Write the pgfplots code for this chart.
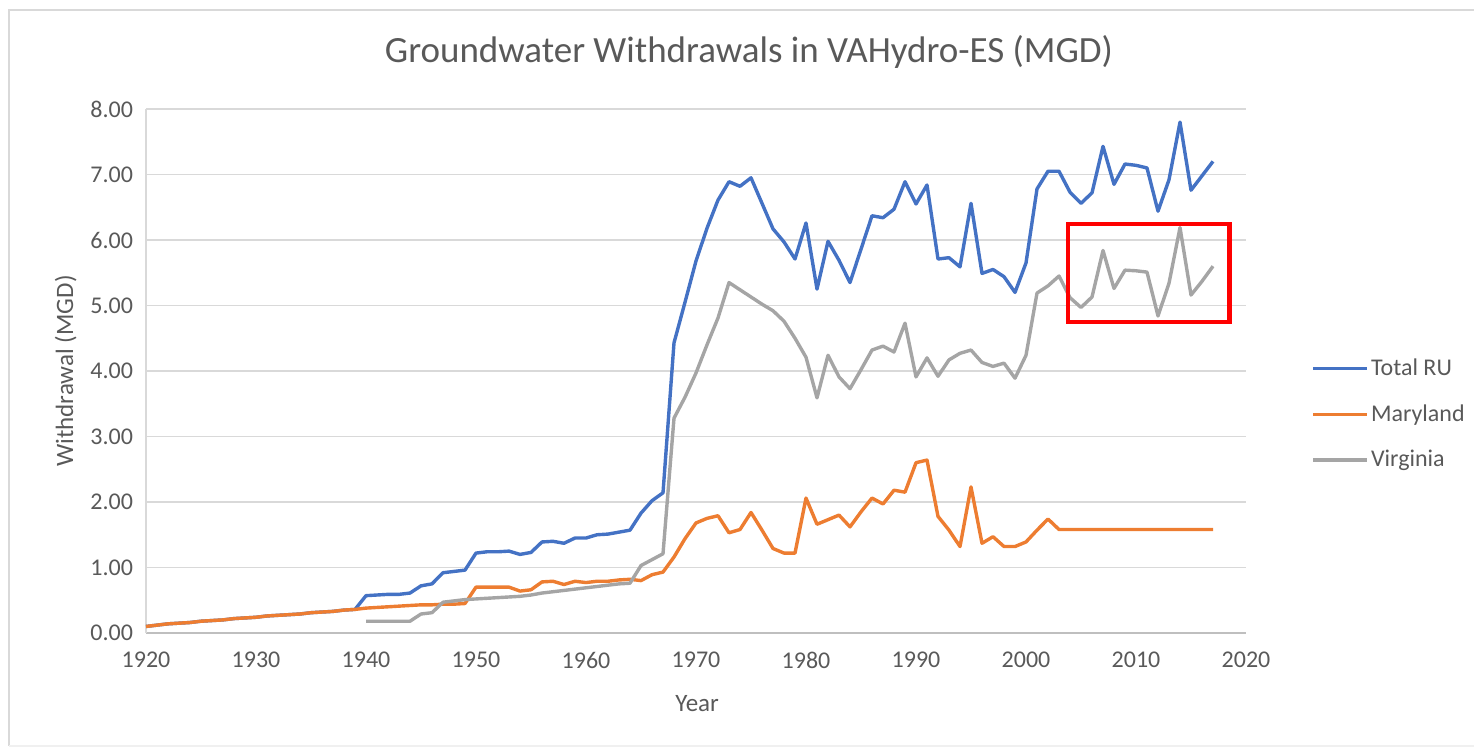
\documentclass[border=0pt]{standalone}
\usepackage{fontspec}
\setmainfont{Carlito}
\usepackage{pgfplots}
\usepackage{pgfplotstable}
\pgfplotsset{compat=1.18}
\definecolor{txtgray}{HTML}{595959}
\definecolor{gridgray}{HTML}{D9D9D9}
\definecolor{axgray}{HTML}{BFBFBF}
\definecolor{xlblue}{HTML}{4472C4}
\definecolor{xlorange}{HTML}{ED7D31}
\definecolor{xlgray}{HTML}{A5A5A5}

\pgfplotstableread{
year val
1920 0.10
1921 0.12
1922 0.14
1923 0.15
1924 0.16
1925 0.18
1926 0.19
1927 0.20
1928 0.22
1929 0.23
1930 0.24
1931 0.26
1932 0.27
1933 0.28
1934 0.29
1935 0.31
1936 0.32
1937 0.33
1938 0.35
1939 0.36
1940 0.57
1941 0.58
1942 0.59
1943 0.59
1944 0.61
1945 0.72
1946 0.75
1947 0.92
1948 0.94
1949 0.96
1950 1.22
1951 1.24
1952 1.24
1953 1.25
1954 1.20
1955 1.23
1956 1.39
1957 1.40
1958 1.37
1959 1.45
1960 1.45
1961 1.50
1962 1.51
1963 1.54
1964 1.57
1965 1.83
1966 2.02
1967 2.14
1968 4.43
1969 5.05
1970 5.68
1971 6.18
1972 6.61
1973 6.89
1974 6.82
1975 6.95
1976 6.56
1977 6.17
1978 5.97
1979 5.71
1980 6.26
1981 5.25
1982 5.98
1983 5.69
1984 5.35
1985 5.86
1986 6.37
1987 6.34
1988 6.47
1989 6.89
1990 6.55
1991 6.84
1992 5.71
1993 5.73
1994 5.59
1995 6.56
1996 5.49
1997 5.55
1998 5.44
1999 5.20
2000 5.65
2001 6.78
2002 7.05
2003 7.05
2004 6.73
2005 6.56
2006 6.72
2007 7.43
2008 6.85
2009 7.16
2010 7.14
2011 7.10
2012 6.44
2013 6.92
2014 7.80
2015 6.76
2016 6.98
2017 7.20
}\totaltab

\pgfplotstableread{
year val
1920 0.10
1921 0.12
1922 0.14
1923 0.15
1924 0.16
1925 0.18
1926 0.19
1927 0.20
1928 0.22
1929 0.23
1930 0.24
1931 0.26
1932 0.27
1933 0.28
1934 0.29
1935 0.31
1936 0.32
1937 0.33
1938 0.35
1939 0.36
1940 0.38
1941 0.39
1942 0.40
1943 0.41
1944 0.42
1945 0.43
1946 0.43
1947 0.44
1948 0.44
1949 0.45
1950 0.70
1951 0.70
1952 0.70
1953 0.70
1954 0.64
1955 0.66
1956 0.78
1957 0.79
1958 0.74
1959 0.79
1960 0.77
1961 0.79
1962 0.79
1963 0.81
1964 0.82
1965 0.80
1966 0.89
1967 0.93
1968 1.16
1969 1.44
1970 1.68
1971 1.75
1972 1.79
1973 1.53
1974 1.58
1975 1.84
1976 1.57
1977 1.29
1978 1.22
1979 1.22
1980 2.06
1981 1.66
1982 1.73
1983 1.80
1984 1.62
1985 1.85
1986 2.06
1987 1.97
1988 2.18
1989 2.15
1990 2.60
1991 2.64
1992 1.78
1993 1.57
1994 1.32
1995 2.23
1996 1.37
1997 1.47
1998 1.32
1999 1.32
2000 1.39
2001 1.57
2002 1.74
2003 1.58
2004 1.58
2005 1.58
2006 1.58
2007 1.58
2008 1.58
2009 1.58
2010 1.58
2011 1.58
2012 1.58
2013 1.58
2014 1.58
2015 1.58
2016 1.58
2017 1.58
}\mdtab

\pgfplotstableread{
year val
1940 0.18
1941 0.18
1942 0.18
1943 0.18
1944 0.18
1945 0.29
1946 0.31
1947 0.47
1948 0.49
1949 0.51
1950 0.52
1951 0.53
1952 0.54
1953 0.55
1954 0.56
1955 0.58
1956 0.61
1957 0.63
1958 0.65
1959 0.67
1960 0.69
1961 0.71
1962 0.73
1963 0.75
1964 0.76
1965 1.03
1966 1.12
1967 1.21
1968 3.28
1969 3.60
1970 3.97
1971 4.40
1972 4.81
1973 5.35
1974 5.24
1975 5.13
1976 5.02
1977 4.92
1978 4.76
1979 4.50
1980 4.21
1981 3.59
1982 4.24
1983 3.91
1984 3.73
1985 4.02
1986 4.32
1987 4.38
1988 4.29
1989 4.73
1990 3.91
1991 4.20
1992 3.92
1993 4.17
1994 4.27
1995 4.32
1996 4.13
1997 4.07
1998 4.12
1999 3.89
2000 4.24
2001 5.19
2002 5.30
2003 5.45
2004 5.12
2005 4.97
2006 5.13
2007 5.84
2008 5.26
2009 5.54
2010 5.53
2011 5.51
2012 4.84
2013 5.34
2014 6.19
2015 5.16
2016 5.37
2017 5.60
}\vatab

\begin{document}
\begin{tikzpicture}
\useasboundingbox (0,0) rectangle (737bp,373.5bp);
% outer chart frame
\draw[gridgray, line width=1.2bp] (740bp,368.5bp) -- (4.5bp,368.5bp) -- (4.5bp,0.5bp);
\draw[black!6, line width=0.8bp] (4.5bp,0.5bp) -- (740bp,0.5bp);
% title
\node[text=txtgray, font=\fontsize{18.5bp}{22bp}\selectfont] at (374.5bp,347.5bp) {Groundwater Withdrawals in VAHydro-ES (MGD)};
\begin{axis}[
  at={(73bp,57bp)}, anchor=south west,
  scale only axis, width=550bp, height=262bp,
  xmin=1920, xmax=2020, ymin=0, ymax=8,
  xtick={1920,1930,...,2020}, ytick={0,1,...,8},
  major tick length=0pt,
  axis lines*=left,
  x axis line style={draw=axgray, line width=1.1bp},
  y axis line style={draw=gridgray, line width=0.9bp},
  ymajorgrids, grid style={draw=gridgray, line width=0.9bp},
  /pgf/number format/assume math mode=true,
  tick label style={text=txtgray, font=\fontsize{12bp}{14bp}\selectfont},
  xticklabel style={/pgf/number format/1000 sep={}, yshift=-6bp},
  yticklabel={\pgfmathprintnumber[fixed,fixed zerofill,precision=2]{\tick}},
  yticklabel style={xshift=-3bp},
  xlabel={Year},
  ylabel={Withdrawal (MGD)},
  label style={text=txtgray, font=\fontsize{12.5bp}{14bp}\selectfont},
  xlabel style={at={(axis description cs:0.501,-0.134)}, anchor=center},
  ylabel style={at={(axis description cs:-0.073,0.50)}, anchor=center, rotate=0},
  legend style={draw=none, fill=none, at={(axis cs:2025.9,3.34)}, anchor=west,
    inner sep=0pt, row sep=11bp,
    nodes={inner xsep=1.2bp, inner ysep=1bp, text=txtgray, font=\fontsize{12bp}{14bp}\selectfont}},
  legend cell align=left,
  legend image code/.code={\draw[#1] (0bp,0bp) -- (27bp,0bp);},
  every axis plot/.append style={line width=1.7bp, line join=round},
  clip=false,
]
\addplot[xlblue] table[x=year,y=val] {\totaltab};
\addlegendentry{Total RU}
\addplot[xlorange] table[x=year,y=val] {\mdtab};
\addlegendentry{Maryland}
\addplot[xlgray] table[x=year,y=val] {\vatab};
\addlegendentry{Virginia}
\draw[red, line width=2.2bp] (axis cs:2003.8,6.24) rectangle (axis cs:2018.5,4.75);
\end{axis}
\end{tikzpicture}
\end{document}
